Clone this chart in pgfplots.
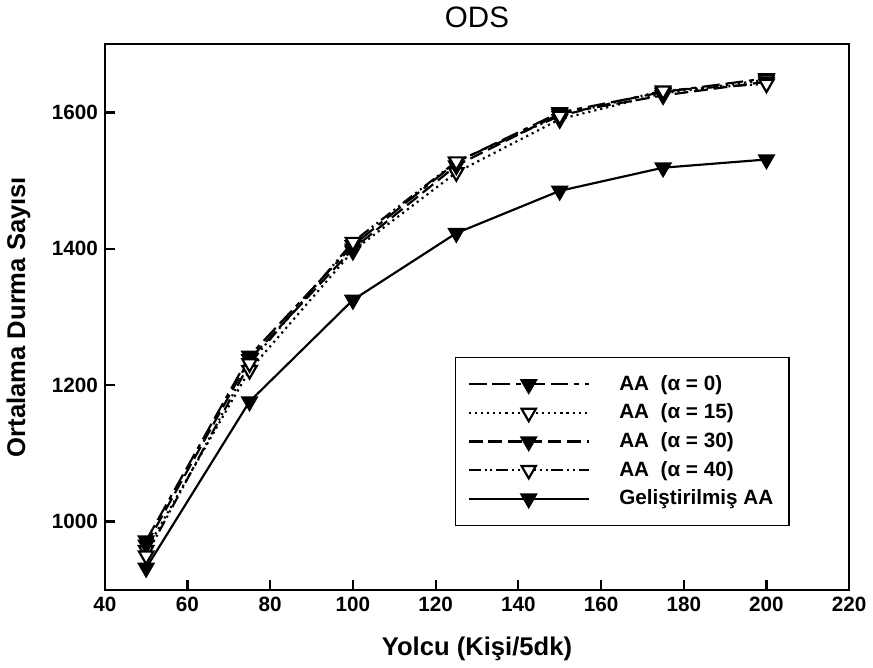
\documentclass[border=0pt]{standalone}
\usepackage{fontspec}
\setmainfont{Liberation Sans}
\usepackage{pgfplots}
\pgfplotsset{compat=1.18}
\begin{document}
\begin{tikzpicture}
\begin{axis}[
  scale only axis,
  width=378pt, height=277pt,
  xmin=40, xmax=220, ymin=900, ymax=1700,
  xtick={40,60,...,220},
  ytick={1000,1200,1400,1600},
  tick pos=left, tick align=inside,
  major tick length=5pt,
  axis line style={line width=1.1pt},
  every tick/.style={line width=1.1pt, black},
  /pgf/number format/assume math mode=true,
  /pgf/number format/1000 sep={},
  ticklabel style={font=\fontsize{10.5}{12}\selectfont\bfseries},
  title={ODS},
  title style={font=\fontsize{15}{17}\selectfont, yshift=-1pt},
  xlabel={Yolcu (Kişi/5dk)},
  ylabel={Ortalama Durma Sayısı},
  label style={font=\fontsize{13}{15}\selectfont\bfseries},
  xlabel style={yshift=-6pt},
  ylabel style={yshift=4pt},
  legend style={at={(0.92,0.117)}, anchor=south east, draw=black, line width=0.6pt,
    font=\fontsize{10.5}{12}\selectfont\bfseries, row sep=1.4pt,
    inner xsep=6pt, inner ysep=7pt,
    /tikz/every odd column/.append style={column sep=13pt}},
  legend cell align={left},
  legend image code/.code={
    \draw[mark repeat=2,mark phase=2,#1] plot coordinates {(0cm,0cm) (1.07cm,0cm) (2.14cm,0cm)};},
  every axis plot/.append style={line width=1.1pt, mark size=4.2pt},
]
\addplot[black, dash pattern=on 9pt off 3pt on 9pt off 3pt on 2.5pt off 3pt,
  mark=triangle*, mark options={rotate=180, solid, fill=black}]
  coordinates {(50,972) (75,1243) (100,1405) (125,1527) (150,1600) (175,1630) (200,1650)};
\addlegendentry{AA~~(α = 0)}
\addplot[black, dotted,
  mark=triangle*, mark options={rotate=180, solid, fill=white}]
  coordinates {(50,958) (75,1222) (100,1397) (125,1512) (150,1590) (175,1628) (200,1648)};
\addlegendentry{AA~~(α = 15)}
\addplot[black, dash pattern=on 7pt off 3pt,
  mark=triangle*, mark options={rotate=180, solid, fill=black}]
  coordinates {(50,966) (75,1238) (100,1400) (125,1522) (150,1598) (175,1625) (200,1645)};
\addlegendentry{AA~~(α = 30)}
\addplot[black, dash pattern=on 6pt off 2pt on 1pt off 2pt on 1pt off 2pt,
  mark=triangle*, mark options={rotate=180, solid, fill=white}]
  coordinates {(50,950) (75,1232) (100,1410) (125,1528) (150,1595) (175,1632) (200,1642)};
\addlegendentry{AA~~(α = 40)}
\addplot[black, solid,
  mark=triangle*, mark options={rotate=180, solid, fill=black}]
  coordinates {(50,932) (75,1176) (100,1325) (125,1423) (150,1485) (175,1519) (200,1531)};
\addlegendentry{Geliştirilmiş AA}
\end{axis}
\end{tikzpicture}
\end{document}
